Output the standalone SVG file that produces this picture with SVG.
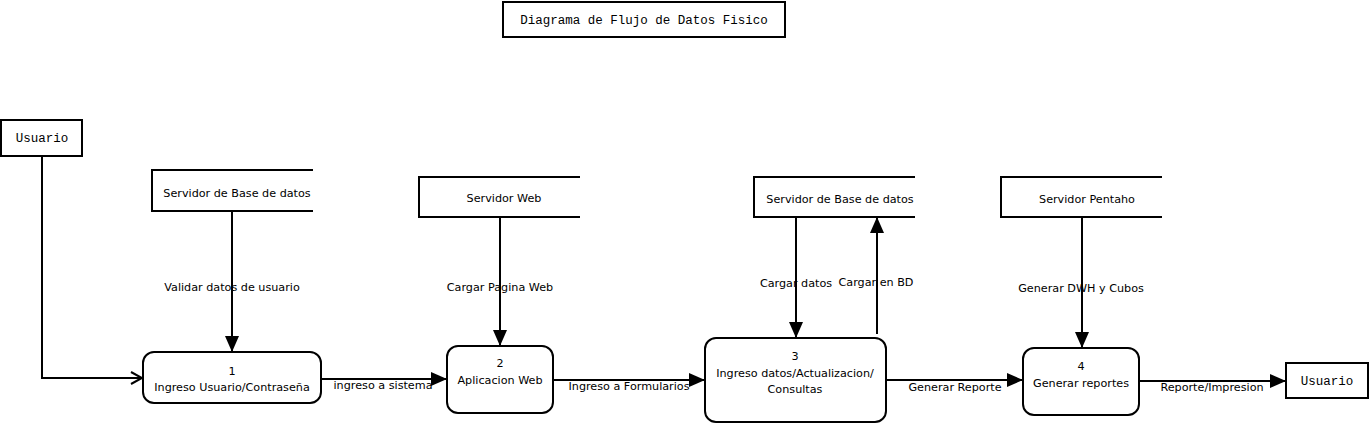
<svg xmlns="http://www.w3.org/2000/svg" width="1370" height="424" viewBox="0 0 1370 424">
<style>
.box{fill:#fff;stroke:#000;stroke-width:2}
.proc{fill:#fff;stroke:#000;stroke-width:2}
.store{fill:none;stroke:#000;stroke-width:2}
.mono{font-family:"Liberation Mono",monospace;font-size:12.5px;fill:#000;text-anchor:middle}
.t{font-family:"DejaVu Sans","Liberation Sans",sans-serif;font-size:11.2px;fill:#000;text-anchor:middle}
.lab{font-family:"DejaVu Sans","Liberation Sans",sans-serif;font-size:11.2px;fill:#000;text-anchor:middle}
.c{fill:none;stroke:#000;stroke-width:2}
.arr{marker-end:url(#ah)}
</style>
<defs>
<marker id="ah" markerWidth="17" markerHeight="14" refX="16" refY="7" orient="auto" markerUnits="userSpaceOnUse">
<path d="M0,0 L16,7 L0,14 Z" fill="#000"/>
</marker>
<marker id="oh" markerWidth="14" markerHeight="14" refX="12" refY="7" orient="auto" markerUnits="userSpaceOnUse">
<path d="M1,1 L12,7 L1,13" fill="none" stroke="#000" stroke-width="2"/>
</marker>
</defs>
<g id="title">
<rect class="box" x="503" y="2" width="282" height="35"/>
<text class="mono" x="644" y="24">Diagrama de Flujo de Datos Fisico</text>
</g>
<g id="connectors">
<path class="c" d="M42,156 V378 H142" marker-end="url(#oh)"/>
<path class="c arr" d="M232,211 V352"/>
<path class="c arr" d="M500,217 V346"/>
<path class="c arr" d="M796,217 V338"/>
<path class="c arr" d="M877,334 V217"/>
<path class="c arr" d="M1082,217 V348"/>
<path class="c arr" d="M321,379 H447"/>
<path class="c arr" d="M553,380 H705"/>
<path class="c arr" d="M886,380 H1023"/>
<path class="c arr" d="M1139,381 H1286"/>
<text class="lab" x="232" y="291">Validar datos de usuario</text>
<text class="lab" x="500" y="291">Cargar Pagina Web</text>
<text class="lab" x="796" y="287">Cargar datos</text>
<text class="lab" x="876" y="286">Cargar en BD</text>
<text class="lab" x="1081" y="292">Generar DWH y Cubos</text>
<text class="lab" x="383" y="389">ingreso a sistema</text>
<text class="lab" x="629" y="390">Ingreso a Formularios</text>
<text class="lab" x="955" y="391">Generar Reporte</text>
<text class="lab" x="1212" y="391">Reporte/Impresion</text>
</g>
<g id="usuario1">
<rect class="box" x="1" y="120" width="81" height="36"/>
<text class="mono" x="42" y="142">Usuario</text>
</g>
<g id="store1">
<path class="store" d="M313,170 H152 V211 H313"/>
<text class="t" x="237" y="197">Servidor de Base de datos</text>
</g>
<g id="store2">
<path class="store" d="M580,177 H419 V217 H580"/>
<text class="t" x="504" y="202">Servidor Web</text>
</g>
<g id="store3">
<path class="store" d="M915,177 H754 V217 H915"/>
<text class="t" x="840" y="203">Servidor de Base de datos</text>
</g>
<g id="store4">
<path class="store" d="M1162,177 H1001 V217 H1162"/>
<text class="t" x="1087" y="203">Servidor Pentaho</text>
</g>
<g id="p1">
<rect class="proc" x="143" y="352" width="178" height="51" rx="11"/>
<text class="t" x="232" y="375">1</text>
<text class="t" x="232" y="391">Ingreso Usuario/Contraseña</text>
</g>
<g id="p2">
<rect class="proc" x="447" y="346" width="106" height="67" rx="11"/>
<text class="t" x="500" y="367">2</text>
<text class="t" x="500" y="384">Aplicacion Web</text>
</g>
<g id="p3">
<rect class="proc" x="705" y="338" width="181" height="84" rx="11"/>
<text class="t" x="795" y="360">3</text>
<text class="t" x="795" y="377">Ingreso datos/Actualizacion/</text>
<text class="t" x="795" y="393">Consultas</text>
</g>
<g id="p4">
<rect class="proc" x="1023" y="348" width="116" height="67" rx="11"/>
<text class="t" x="1081" y="370">4</text>
<text class="t" x="1081" y="387">Generar reportes</text>
</g>
<g id="usuario2">
<rect class="box" x="1286" y="363" width="82" height="35"/>
<text class="mono" x="1327" y="385">Usuario</text>
</g>
</svg>
